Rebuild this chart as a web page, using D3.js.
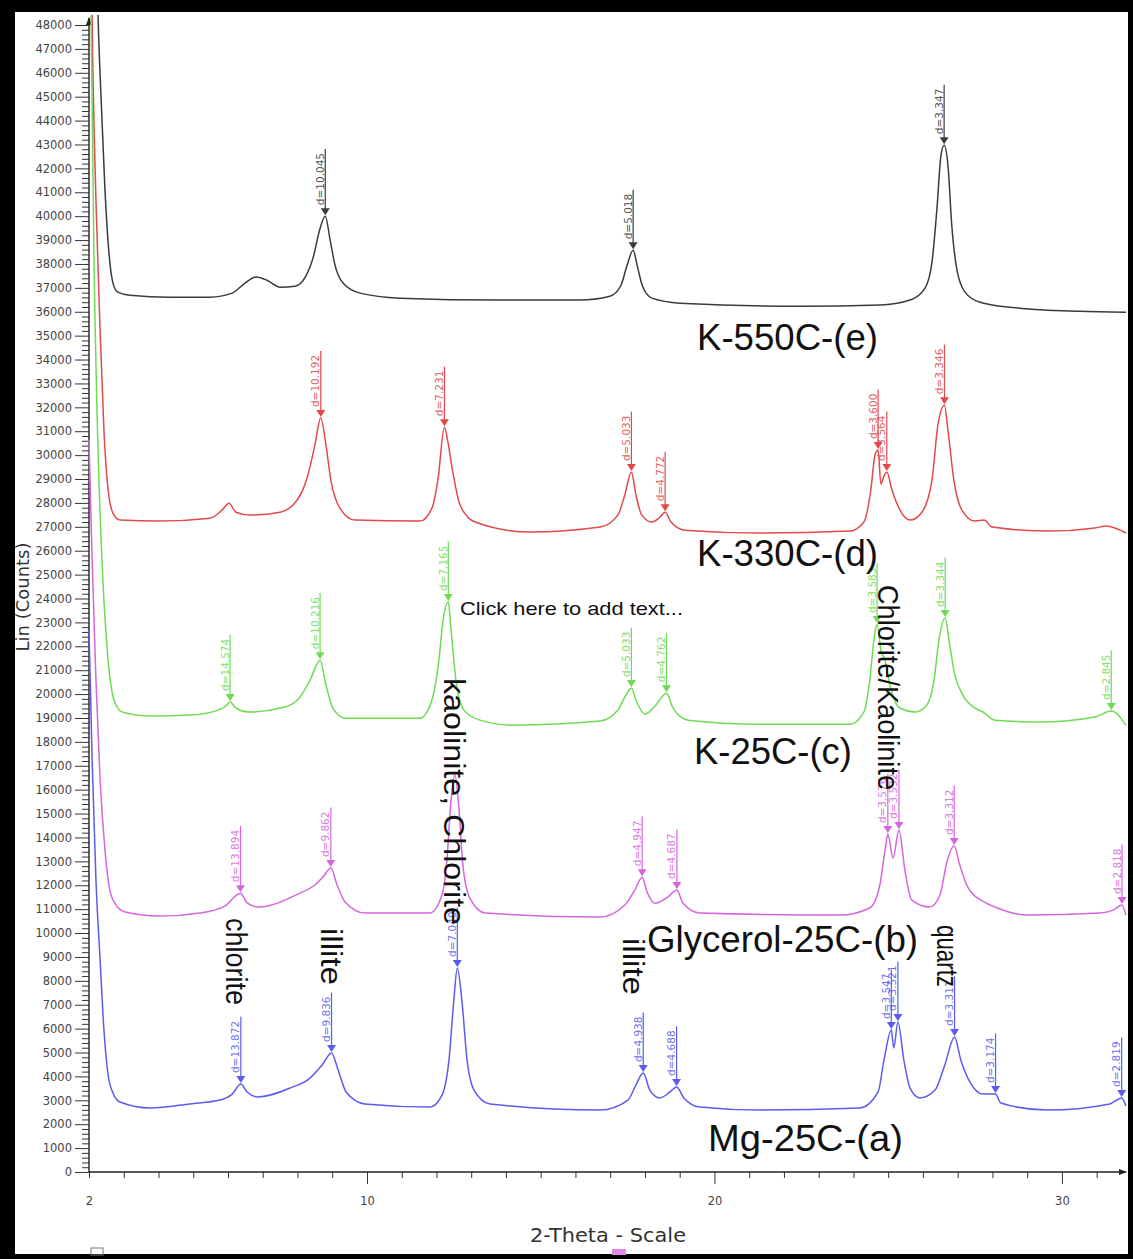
<!DOCTYPE html>
<html>
<head>
<meta charset="utf-8">
<script src="https://cdn.jsdelivr.net/npm/d3@7"></script>
<style>
  html, body { margin: 0; padding: 0; background: #fff; }
  svg { display: block; }
</style>
</head>
<body>
<div id="chart"></div>
<script>
// scans as [2-theta, counts]
const scanE = [[2.14,57400],[2.26,48410],[2.35,44850],[2.46,41090],[2.58,38370],[2.69,37200],[2.83,36820],[3.18,36690],[4.33,36610],[5.48,36610],[6.12,36780],[6.49,37200],[6.81,37450],[7.12,37320],[7.50,37030],[7.93,37070],[8.24,37490],[8.47,38370],[8.62,39330],[8.80,40000],[8.94,39000],[9.08,37950],[9.31,37200],[9.80,36780],[10.95,36570],[13.83,36490],[16.13,36490],[16.99,36650],[17.31,37110],[17.48,37910],[17.66,38570],[17.78,37910],[17.92,37110],[18.20,36570],[19.01,36360],[22.46,36230],[24.76,36280],[25.63,36490],[26.06,36990],[26.26,38070],[26.40,40250],[26.52,42550],[26.61,42970],[26.72,42130],[26.83,39620],[26.98,37740],[27.21,36820],[27.64,36400],[28.79,36150],[30.52,36020],[31.84,35980]]

const scanD = [[2.03,57400],[2.09,48410],[2.20,40670],[2.32,35230],[2.43,31050],[2.55,28540],[2.69,27570],[2.89,27280],[4.04,27240],[5.48,27360],[5.83,27700],[6.03,27990],[6.23,27610],[6.63,27490],[7.50,27610],[7.99,28120],[8.30,29160],[8.50,30420],[8.67,31550],[8.82,30420],[8.96,28950],[9.22,27780],[9.65,27280],[11.53,27240],[11.87,27780],[12.04,28950],[12.23,31170],[12.33,30540],[12.45,29460],[12.68,27910],[13.11,27200],[14.69,26780],[16.71,26990],[17.22,27490],[17.42,28330],[17.61,29290],[17.74,28330],[17.91,27490],[18.20,27200],[18.40,27360],[18.58,27610],[18.75,27200],[19.15,26860],[21.31,26740],[23.90,26820],[24.30,27200],[24.50,28540],[24.62,30000],[24.71,30210],[24.79,28790],[24.88,29120],[24.96,29290],[25.11,28540],[25.34,27700],[25.63,27280],[25.97,27610],[26.26,28950],[26.43,31260],[26.62,32090],[26.72,31050],[26.89,28950],[27.12,27700],[27.50,27240],[27.76,27280],[27.99,26990],[29.65,26820],[30.95,26950],[31.27,27030],[31.84,26740]]

const scanC = [[2.00,53260],[2.06,48410],[2.14,38580],[2.26,30210],[2.40,24770],[2.55,21420],[2.72,19750],[2.95,19250],[3.76,19080],[4.91,19120],[5.71,19330],[5.94,19500],[6.06,19670],[6.23,19410],[6.58,19250],[7.64,19460],[8.07,19870],[8.36,20580],[8.65,21420],[8.82,20380],[9.02,19410],[9.37,18990],[11.53,18990],[11.87,19750],[12.07,21420],[12.19,23100],[12.34,23850],[12.42,22680],[12.56,20580],[12.79,19330],[13.25,18910],[14.20,18700],[16.71,18870],[17.22,19330],[17.42,19870],[17.61,20250],[17.74,19750],[18.00,19160],[18.29,19500],[18.62,20040],[18.81,19410],[19.24,18910],[21.31,18740],[23.90,18740],[24.30,19250],[24.47,20580],[24.59,22260],[24.68,22930],[24.79,21840],[24.91,21420],[25.05,20380],[25.34,19410],[25.77,19250],[26.09,19500],[26.32,20580],[26.46,22260],[26.64,23180],[26.75,22260],[26.92,20790],[27.15,19960],[27.50,19410],[27.73,19250],[28.07,18910],[29.37,18830],[30.95,19040],[31.42,19290],[31.84,18700]]

const scanB = [[2.00,30630],[2.09,25610],[2.20,20590],[2.32,16400],[2.46,13470],[2.60,11800],[2.78,11170],[3.04,10880],[4.04,10710],[5.19,10840],[5.91,11130],[6.36,11670],[6.55,11260],[6.86,11090],[8.07,11670],[8.50,12010],[8.73,12340],[8.96,12720],[9.14,12010],[9.37,11300],[9.94,10840],[11.81,10840],[12.16,11590],[12.30,13050],[12.42,15560],[12.53,16610],[12.65,15150],[12.76,12850],[12.96,11460],[13.40,10840],[16.71,10670],[17.42,11170],[17.71,11800],[17.92,12340],[18.06,11720],[18.29,11250],[18.66,11510],[18.92,11800],[19.09,11260],[19.58,10840],[23.61,10750],[24.47,11050],[24.76,12010],[24.91,13470],[24.99,14140],[25.14,13140],[25.31,14310],[25.48,12640],[25.68,11380],[26.20,11090],[26.49,11590],[26.69,12970],[26.90,13640],[27.06,12850],[27.29,11920],[27.76,11300],[28.07,11090],[28.99,10750],[31.09,10840],[31.47,10960],[31.73,11170],[31.84,10750]]

const scanA = [[2.00,22680],[2.09,17240],[2.20,12220],[2.32,8870],[2.43,5940],[2.55,4060],[2.69,3310],[2.89,2930],[3.76,2680],[4.91,2850],[5.77,3010],[6.12,3260],[6.37,3680],[6.55,3350],[6.86,3140],[7.78,3510],[8.36,3930],[8.71,4480],[8.98,4980],[9.17,4270],[9.40,3350],[9.94,2850],[11.81,2720],[12.16,3220],[12.36,4690],[12.50,7200],[12.60,8540],[12.73,7200],[12.88,4690],[13.08,3430],[13.54,2850],[16.71,2590],[17.51,3010],[17.74,3640],[17.95,4140],[18.14,3430],[18.43,3100],[18.72,3350],[18.91,3560],[19.12,3100],[19.58,2720],[21.31,2590],[24.19,2680],[24.71,3350],[24.88,4690],[25.09,5940],[25.16,5190],[25.28,6280],[25.45,4690],[25.63,3510],[25.91,3100],[26.35,3430],[26.63,4480],[26.91,5650],[27.09,4690],[27.35,3770],[27.73,3260],[28.09,3260],[28.24,2890],[29.57,2590],[31.38,2850],[31.72,3100],[31.84,2760]]

// peak markers: [2-theta, counts at peak, d label]
const peaksE = [[8.80,40000,'d=10.045'],[17.66,38570,'d=5.018'],[26.61,42970,'d=3.347']]
const peaksD = [[8.67,31550,'d=10.192'],[12.23,31170,'d=7.231'],[17.61,29290,'d=5.033'],[18.58,27610,'d=4.772'],[24.71,30210,'d=3.600'],[24.96,29290,'d=3.564'],[26.62,32090,'d=3.346']]
const peaksC = [[6.06,19670,'d=14.574'],[8.65,21420,'d=10.216'],[12.34,23850,'d=7.165'],[17.61,20250,'d=5.033'],[18.62,20040,'d=4.762'],[24.68,22930,'d=3.583'],[26.64,23180,'d=3.344'],[31.42,19290,'d=2.845']]
const peaksB = [[6.36,11670,'d=13.894'],[8.96,12720,'d=9.862'],[17.92,12340,'d=4.947'],[18.92,11800,'d=4.687'],[24.99,14140,'d=3.576'],[25.31,14310,'d=3.532'],[26.90,13640,'d=3.312'],[31.73,11170,'d=2.818']]
const peaksA = [[6.37,3680,'d=13.872'],[8.98,4980,'d=9.836'],[12.60,8540,'d=7.040'],[17.95,4140,'d=4.938'],[18.91,3560,'d=4.688'],[25.09,5940,'d=3.547'],[25.28,6280,'d=3.521'],[26.91,5650,'d=3.311'],[28.09,3260,'d=3.174'],[31.72,3100,'d=2.819']]

const scanNames = ['K-550C-(e)', 'K-330C-(d)', 'K-25C-(c)', 'Glycerol-25C-(b)', 'Mg-25C-(a)']
const mineralNotes = ['chlorite', 'illite', 'kaolinite, Chlorite', 'illite', 'Chlorite/Kaolinite', 'quartz']
const xTickLabels = [2, 10, 20, 30]

const width = 1133,
      height = 1259

let svg = d3.select('#chart')
        .append('svg')
        .attr('width', width)
        .attr('height', height)

// black frame round the picture
svg.append('rect').attr('width', width).attr('height', height).attr('fill', '#000')
svg.append('rect').attr('x', 15).attr('y', 12).attr('width', 1113).attr('height', 1242).attr('fill', '#fff')

const x = d3.scaleLinear().domain([2, 31.85]).range([89, 1126.2])
const y = d3.scaleLinear().domain([0, 48000]).range([1172, 25])

// y axis, major and minor ticks
let yMinor = d3.range(0, 48001, 200).filter(v => v % 1000 != 0)
svg.append('g')
    .attr('transform', 'translate(89,0)')
    .call(d3.axisLeft(y).tickValues(yMinor).tickSize(7).tickFormat(''))
    .call(g => g.select('.domain').remove())
    .selectAll('line').attr('stroke', '#333')
svg.append('g')
    .attr('transform', 'translate(89,0)')
    .call(d3.axisLeft(y).tickValues(d3.range(0, 48001, 1000)).tickSize(14).tickPadding(3).tickFormat(d3.format('d')))
    .call(g => g.select('.domain').remove())
    .call(g => g.selectAll('line').attr('stroke', '#333'))
    .call(g => g.selectAll('text')
        .attr('font-family', 'DejaVu Sans')
        .attr('font-size', 11.5)
        .attr('fill', '#444'))

// x axis
let xMinor = d3.range(2, 32, 1).filter(v => v % 10 != 0)
svg.append('g')
    .attr('transform', 'translate(0,1172)')
    .call(d3.axisBottom(x).tickValues(xMinor).tickSize(6).tickFormat(''))
    .call(g => g.select('.domain').remove())
    .selectAll('line').attr('stroke', '#333')
svg.append('g')
    .attr('transform', 'translate(0,1172)')
    .call(d3.axisBottom(x).tickValues([10, 20, 30]).tickSize(12).tickFormat(''))
    .call(g => g.select('.domain').remove())
    .selectAll('line').attr('stroke', '#333')
svg.append('g')
    .attr('transform', 'translate(0,1172)')
    .call(d3.axisBottom(x).tickValues(xTickLabels).tickSize(0).tickPadding(25).tickFormat(d3.format('d')))
    .call(g => g.select('.domain').remove())
    .call(g => g.selectAll('text')
        .attr('font-family', 'DejaVu Sans')
        .attr('font-size', 11.5)
        .attr('fill', '#444'))

// axis lines with small arrow heads
svg.append('line').attr('x1', 89).attr('x2', 89).attr('y1', 1172).attr('y2', 18)
    .attr('stroke', '#222').attr('stroke-width', 1.4)
svg.append('line').attr('x1', 89).attr('x2', 1126).attr('y1', 1172).attr('y2', 1172)
    .attr('stroke', '#222').attr('stroke-width', 1.4)
svg.append('path').attr('d', 'M86,25 L92,25 L89,17 Z').attr('fill', '#222')
svg.append('path').attr('d', 'M1119,1169 L1119,1175 L1127,1172 Z').attr('fill', '#222')

// axis titles
svg.append('text')
    .attr('transform', 'translate(29,597) rotate(-90)')
    .attr('text-anchor', 'middle')
    .attr('font-family', 'DejaVu Sans')
    .attr('font-size', 18)
    .attr('fill', '#333')
    .text('Lin (Counts)')
svg.append('text')
    .attr('x', 530).attr('y', 1242)
    .attr('textLength', 156).attr('lengthAdjust', 'spacingAndGlyphs')
    .attr('font-family', 'DejaVu Sans')
    .attr('font-size', 19)
    .attr('fill', '#333')
    .text('2-Theta - Scale')

// bits of the legend that peek out under the frame
svg.append('rect').attr('x', 91).attr('y', 1248).attr('width', 12).attr('height', 7)
    .attr('fill', 'none').attr('stroke', '#777')
svg.append('rect').attr('x', 612).attr('y', 1249).attr('width', 14).attr('height', 6)
    .attr('fill', '#e08ae6')

// scans
svg.append('clipPath').attr('id', 'plot-clip')
    .append('rect').attr('x', 88).attr('y', 15).attr('width', 1040).attr('height', 1160)

const colors = ['#3b3b3b', '#e2494b', '#6edc52', '#d566dd', '#5b5bf0']
const scans = [scanE, scanD, scanC, scanB, scanA]
const peaks = [peaksE, peaksD, peaksC, peaksB, peaksA]

let line = d3.line()
        .x(d => x(d[0]))
        .y(d => y(d[1]))
        .curve(d3.curveMonotoneX)

let plot = svg.append('g').attr('clip-path', 'url(#plot-clip)')
scans.forEach((s, i) => {
    plot.append('path')
        .attr('d', line(s))
        .attr('fill', 'none')
        .attr('stroke', colors[i])
        .attr('stroke-width', 1.5)
        .attr('stroke-linejoin', 'round')
})

// peak markers: triangle on the peak, a stick up and the d value
peaks.forEach((list, i) => {
    list.forEach(p => {
        let px = x(p[0]),
            tip = y(p[1]) - 1
        let g = svg.append('g')
        let label = g.append('text')
            .attr('transform', `translate(${px - 1.5},${tip - 10}) rotate(-90)`)
            .attr('font-family', 'DejaVu Sans')
            .attr('font-size', 10.5)
            .attr('fill', colors[i])
            .attr('fill-opacity', 0.9)
            .text(p[2])
        let len = label.node().getComputedTextLength()
        g.append('line')
            .attr('x1', px).attr('x2', px)
            .attr('y1', tip - 6).attr('y2', tip - 14 - len)
            .attr('stroke', colors[i]).attr('stroke-width', 1.2)
        g.append('path')
            .attr('d', `M${px - 4.5},${tip - 7} L${px + 4.5},${tip - 7} L${px},${tip} Z`)
            .attr('fill', colors[i])
    })
})

// sample names
const namePos = [[697, 350, 181], [697, 566, 181], [694, 764, 158], [647, 952, 271], [708, 1151, 195]]
scanNames.forEach((name, i) => {
    svg.append('text')
        .attr('x', namePos[i][0]).attr('y', namePos[i][1])
        .attr('textLength', namePos[i][2]).attr('lengthAdjust', 'spacingAndGlyphs')
        .attr('font-family', 'Liberation Sans, Arial, sans-serif')
        .attr('font-size', 36)
        .attr('fill', '#111')
        .text(name)
})

svg.append('text')
    .attr('x', 460).attr('y', 615)
    .attr('textLength', 223).attr('lengthAdjust', 'spacingAndGlyphs')
    .attr('font-family', 'Liberation Sans, Arial, sans-serif')
    .attr('font-size', 19)
    .attr('fill', '#111')
    .text('Click here to add text...')

// mineral names, written downwards
const notePos = [[226, 918, 87], [321, 928, 57], [444, 678, 247], [623, 938, 57], [878, 585, 205], [937, 925, 62]]
mineralNotes.forEach((note, i) => {
    svg.append('text')
        .attr('transform', `translate(${notePos[i][0]},${notePos[i][1]}) rotate(90)`)
        .attr('textLength', notePos[i][2]).attr('lengthAdjust', 'spacingAndGlyphs')
        .attr('font-family', 'Liberation Sans, Arial, sans-serif')
        .attr('font-size', 29)
        .attr('fill', '#111')
        .text(note)
})
</script>
</body>
</html>
